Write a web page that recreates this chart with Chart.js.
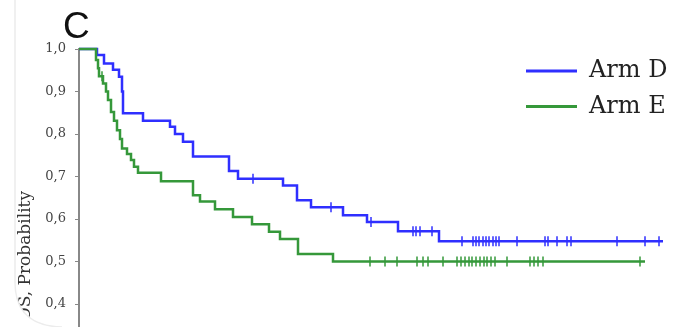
<!DOCTYPE html>
<html>
<head>
<meta charset="utf-8">
<title>Arm D vs Arm E</title>
<script src="https://cdn.jsdelivr.net/npm/chart.js"></script>
<style>
  html, body { margin: 0; padding: 0; background: #fff; }
  #wrap { width: 676px; height: 327px; position: relative; }
</style>
</head>
<body>
<div id="wrap"><canvas id="km"></canvas></div>
<script>
// times are months (x axis itself is cropped away)
const armDTimes = [1.8, 2.5, 3.4, 4.0, 4.3, 4.4, 6.4, 9.1, 9.6, 10.4, 11.4, 15.0, 15.9, 20.4, 21.8, 23.2, 26.4, 28.8, 31.9, 36.0];
const armDSurv = [0.986, 0.966, 0.951, 0.935, 0.900, 0.849, 0.831, 0.817, 0.800, 0.782, 0.747, 0.713, 0.695, 0.679, 0.644, 0.628, 0.609, 0.593, 0.571, 0.548];
const armDCensored = [17.4, 25.2, 29.2, 33.4, 33.7, 34.1, 35.3, 38.3, 39.4, 39.7, 40.0, 40.4, 40.7, 41.0, 41.4, 41.7, 42.0, 43.8, 46.6, 46.9, 47.8, 48.8, 49.2, 53.8, 56.6, 58.0];
const armDEnd = 58.4;

const armETimes = [1.7, 1.9, 2.0, 2.4, 2.7, 2.9, 3.2, 3.5, 3.8, 4.1, 4.3, 4.8, 5.2, 5.5, 5.9, 8.2, 11.4, 12.1, 13.6, 15.4, 17.3, 19.0, 20.1, 21.9, 25.4];
const armESurv = [0.974, 0.955, 0.936, 0.919, 0.900, 0.880, 0.852, 0.831, 0.809, 0.788, 0.766, 0.753, 0.739, 0.723, 0.709, 0.689, 0.656, 0.641, 0.623, 0.605, 0.588, 0.570, 0.553, 0.518, 0.500];
const armECensored = [2.3, 29.1, 30.6, 31.8, 33.8, 34.4, 34.9, 36.4, 37.8, 38.2, 38.6, 39.0, 39.3, 39.7, 40.1, 40.5, 40.8, 41.2, 41.6, 42.8, 45.1, 45.5, 45.9, 46.4, 56.1];
const armEEnd = 56.6;

const yTicks = [0.4, 0.5, 0.6, 0.7, 0.8, 0.9, 1.0];

const blue = '#2f2fff';
const green = '#35983a';

// survival value at time t (step function)
function survAt(times, surv, t) {
  let s = 1;
  for (let i = 0; i < times.length; i++) {
    if (times[i] <= t) s = surv[i];
  }
  return s;
}

function stepPoints(times, surv, end) {
  const pts = [{ x: 0, y: 1 }];
  times.forEach((t, i) => pts.push({ x: t, y: surv[i] }));
  pts.push({ x: end, y: surv[surv.length - 1] });
  return pts;
}

function censorPoints(times, surv, cens) {
  return cens.map((t) => ({ x: t, y: survAt(times, surv, t) }));
}

// letter, cropped y title, legend drawn inside the plot
const extras = {
  id: 'extras',
  afterDraw(chart) {
    const ctx = chart.ctx;
    ctx.save();

    ctx.save();
    ctx.translate(30, 191);
    ctx.rotate(-Math.PI / 2);
    ctx.font = '17px "DejaVu Serif", serif';
    ctx.fillStyle = '#333';
    ctx.textAlign = 'right';
    ctx.fillText('OS, Probability', 0, 0);
    ctx.restore();

    // the figure is cut by a rounded card edge at bottom left
    ctx.fillStyle = '#fff';
    ctx.beginPath();
    ctx.moveTo(0, 0);
    ctx.lineTo(15, 0);
    ctx.lineTo(15, 282);
    ctx.quadraticCurveTo(15, 326, 62, 327);
    ctx.lineTo(0, 327);
    ctx.closePath();
    ctx.fill();

    ctx.strokeStyle = '#ececec';
    ctx.lineWidth = 1.5;
    ctx.beginPath();
    ctx.moveTo(15, 0);
    ctx.lineTo(15, 282);
    ctx.quadraticCurveTo(15, 326, 62, 327);
    ctx.stroke();

    ctx.fillStyle = '#111';
    ctx.font = '37px "Liberation Sans", Arial, sans-serif';
    ctx.textBaseline = 'alphabetic';
    ctx.textAlign = 'left';
    ctx.fillText('C', 63, 38);

    const items = chart.data.datasets.filter((d) => d.inLegend);
    items.forEach((d, i) => {
      const y = 71 + i * 35.5;
      ctx.strokeStyle = d.borderColor;
      ctx.lineWidth = 3;
      ctx.beginPath();
      ctx.moveTo(526, y);
      ctx.lineTo(577, y);
      ctx.stroke();
      ctx.fillStyle = '#222';
      ctx.font = '24px "DejaVu Serif", serif';
      ctx.textBaseline = 'middle';
      ctx.textAlign = 'left';
      ctx.fillText(d.label, 589, y);
    });
    ctx.restore();
  },
};

new Chart(document.getElementById('km'), {
  type: 'line',
  data: {
    datasets: [
      {
        label: 'Arm D',
        inLegend: true,
        data: stepPoints(armDTimes, armDSurv, armDEnd),
        borderColor: blue,
        borderWidth: 2.5,
        stepped: true,
        pointRadius: 0,
        clip: false,
        order: 3,
      },
      {
        label: 'Arm E',
        inLegend: true,
        data: stepPoints(armETimes, armESurv, armEEnd),
        borderColor: green,
        borderWidth: 2.5,
        stepped: true,
        pointRadius: 0,
        clip: false,
        order: 2,
      },
      {
        label: 'Arm D censored',
        data: censorPoints(armDTimes, armDSurv, armDCensored),
        showLine: false,
        pointStyle: 'line',
        rotation: 90,
        pointRadius: 5,
        borderColor: blue,
        pointBorderWidth: 1.5,
        clip: false,
        order: 1,
      },
      {
        label: 'Arm E censored',
        data: censorPoints(armETimes, armESurv, armECensored),
        showLine: false,
        pointStyle: 'line',
        rotation: 90,
        pointRadius: 5,
        borderColor: green,
        pointBorderWidth: 1.5,
        clip: false,
        order: 0,
      },
    ],
  },
  options: {
    responsive: true,
    maintainAspectRatio: false,
    animation: false,
    layout: { autoPadding: false, padding: { top: 49, left: 0, right: 0, bottom: 0 } },
    plugins: {
      legend: { display: false },
      tooltip: { enabled: false },
    },
    scales: {
      x: {
        type: 'linear',
        min: 0,
        max: 59.7,
        display: false,
      },
      y: {
        min: 0.346,
        max: 1.0,
        afterBuildTicks: (scale) => {
          scale.ticks = yTicks.map((v) => ({ value: v }));
        },
        afterFit: (scale) => {
          scale.width = 79;
          scale.paddingTop = 0;
          scale.paddingBottom = 0;
        },
        ticks: {
          padding: 9,
          color: '#444',
          font: { family: '"DejaVu Serif", serif', size: 13 },
          callback: (v) => v.toFixed(1).replace('.', ','),
        },
        grid: {
          drawOnChartArea: false,
          tickLength: 4,
          color: '#888',
        },
        border: { color: '#888', width: 2 },
      },
    },
  },
  plugins: [extras],
});
</script>
</body>
</html>
